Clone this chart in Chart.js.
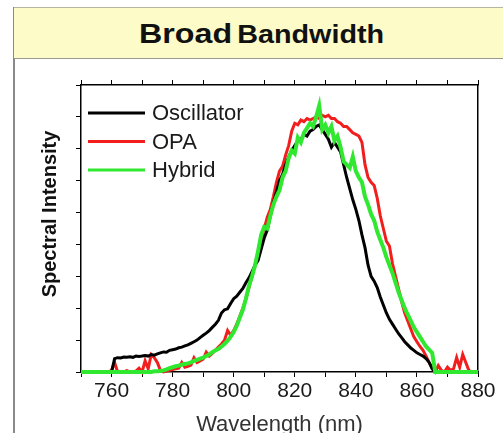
<!DOCTYPE html>
<html>
<head>
<meta charset="utf-8">
<script src="https://cdn.jsdelivr.net/npm/chart.js@4.4.1/dist/chart.umd.min.js"></script>
<style>
  html, body { margin: 0; padding: 0; background: #fff; }
  #wrap { position: relative; width: 503px; height: 433px; overflow: hidden; }
  #chart { position: absolute; left: 0; top: 0; }
  #leftline { position: absolute; left: 13px; top: 7px; width: 2px; height: 426px; background: #8a8a8a; }
  #titlebar {
    position: absolute; left: 14px; top: 7px; width: 489px; height: 50px;
    background: #fdfcc9; border-top: 1px solid #b5b5a0; border-bottom: 1px solid #9a9a90;
    display: flex; align-items: center; justify-content: center;
  }
  #titlebar span.t {
    font-family: "Liberation Sans", Arial, sans-serif; font-weight: bold; color: #111;
    transform: scaleX(1.15); white-space: nowrap; margin-left: 6px; margin-top: 2px;
  }
</style>
</head>
<body>
<div id="wrap">
  <canvas id="chart" width="503" height="433"></canvas>
  <div id="leftline"></div>
  <div id="titlebar"><span class="t"><span style="font-size:28px">Broad</span> <span style="font-size:25px">Bandwidth</span></span></div>
</div>
<script>
// wavelength axis (nm), one sample per nm
const wavelength = [
  750, 751, 752, 753, 754, 755, 756, 757, 758, 759,
  760, 761, 762, 763, 764, 765, 766, 767, 768, 769,
  770, 771, 772, 773, 774, 775, 776, 777, 778, 779,
  780, 781, 782, 783, 784, 785, 786, 787, 788, 789,
  790, 791, 792, 793, 794, 795, 796, 797, 798, 799,
  800, 801, 802, 803, 804, 805, 806, 807, 808, 809,
  810, 811, 812, 813, 814, 815, 816, 817, 818, 819,
  820, 821, 822, 823, 824, 825, 826, 827, 828, 829,
  830, 831, 832, 833, 834, 835, 836, 837, 838, 839,
  840, 841, 842, 843, 844, 845, 846, 847, 848, 849,
  850, 851, 852, 853, 854, 855, 856, 857, 858, 859,
  860, 861, 862, 863, 864, 865, 866, 867, 868, 869,
  870, 871, 872, 873, 874, 875, 876, 877, 878, 879,
  880
];

const oscillator = [
  0, 0, 0, 0, 0, 0, 0, 0, 0, 0,
  0, 0.42, 0.45, 0.44, 0.47, 0.46, 0.48, 0.46, 0.5, 0.49,
  0.5, 0.52, 0.5, 0.55, 0.53, 0.57, 0.6, 0.63, 0.62, 0.68,
  0.7, 0.72, 0.76, 0.78, 0.82, 0.85, 0.9, 0.95, 1.0, 1.08,
  1.15, 1.22, 1.3, 1.4, 1.5, 1.62, 1.85, 1.95, 1.98, 2.15,
  2.3, 2.38, 2.5, 2.62, 2.8, 2.95, 3.15, 3.35, 3.5, 3.85,
  4.2, 4.45, 4.9, 5.3, 5.65, 6.0, 6.2, 6.5, 6.75, 6.95,
  7.1, 7.25, 7.3, 7.45, 7.4, 7.55, 7.6, 7.7, 7.75, 7.6,
  7.45, 7.3, 7.05, 7.2, 7.05, 6.9, 6.5, 6.1, 5.75, 5.4,
  5.1, 4.75, 4.3, 3.9, 3.35, 3.0, 2.85, 2.65, 2.35, 2.1,
  1.85, 1.65, 1.5, 1.35, 1.2, 1.08, 0.95, 0.85, 0.75, 0.68,
  0.6, 0.55, 0.5, 0.42, 0.3, 0.1, 0, 0, 0, 0,
  0, 0, 0, 0, 0, 0, 0, 0, 0, 0,
  0
];

const opa = [
  0, 0, 0, 0, 0, 0, 0, 0, 0, 0,
  0.05, 0.3, 0, 0, 0, 0.04, 0, 0, 0.03, 0.12,
  0, 0.35, 0.1, 0.55, 0.45, 0.3, 0.05, 0, 0.03, 0.05,
  0.08, 0.1, 0.12, 0.3, 0.15, 0.18, 0.22, 0.45, 0.3, 0.35,
  0.4, 0.62, 0.5, 0.58, 0.68, 0.78, 0.88, 1.0, 1.3, 1.15,
  1.3, 1.5, 1.75, 2.0, 2.3, 2.65, 3.0, 3.35, 3.75, 4.15,
  4.5, 4.85, 5.1, 5.5, 5.95, 6.3, 6.45, 6.8, 7.1, 7.55,
  7.8, 7.75, 7.9, 7.85, 7.95, 7.9, 7.95, 8.0, 7.95, 8.05,
  8.0, 8.05, 7.95, 7.95, 7.85, 7.8, 7.7, 7.7, 7.6, 7.5,
  7.45, 7.4, 7.2, 6.5, 6.1, 5.95, 5.85, 5.45, 4.9, 4.5,
  4.1, 3.95, 3.4, 3.0, 2.6, 2.2, 1.85, 1.6, 1.35, 1.1,
  0.95, 0.8, 0.68, 0.5, 0.3, 0.12, 0, 0.2, 0.05, 0,
  0.15, 0.05, 0.1, 0.45, 0.15, 0.55, 0.3, 0.05, 0, 0,
  0
];

const hybrid = [
  0, 0, 0, 0, 0, 0, 0, 0, 0, 0,
  0, 0, 0, 0, 0, 0, 0, 0, 0, 0,
  0, 0, 0, 0, 0.02, 0.02, 0.03, 0.05, 0.08, 0.12,
  0.15, 0.18, 0.2, 0.23, 0.25, 0.27, 0.3, 0.35, 0.38, 0.42,
  0.45, 0.5, 0.55, 0.62, 0.68, 0.72, 0.8, 0.88, 0.98, 1.1,
  1.25, 1.45, 1.7, 1.95, 2.3, 2.7, 3.0, 3.35, 3.8, 4.3,
  4.55, 4.5, 4.9, 5.25, 5.5, 5.7, 6.1, 6.3, 6.7, 6.95,
  6.85, 7.35, 7.2, 7.5, 7.65, 7.8, 7.7, 8.0, 8.35, 7.6,
  7.75, 7.5, 7.7, 7.25, 7.4, 7.05, 6.6, 6.5, 6.4, 6.75,
  6.3, 6.1, 5.95, 5.5, 5.25, 4.95, 4.75, 4.4, 4.15, 3.9,
  3.6, 3.35, 3.1, 2.8, 2.5, 2.25, 2.0, 1.8, 1.6, 1.4,
  1.25, 1.1, 0.95, 0.8, 0.7, 0.6, 0, 0, 0, 0,
  0, 0, 0, 0, 0, 0, 0, 0, 0, 0,
  0
];

const seriesLabels = ['Oscillator', 'OPA', 'Hybrid'];
const xTickLabels = [760, 780, 800, 820, 840, 860, 880];

const FONT = '"Liberation Sans", Arial, sans-serif';

function pts(values) {
  return wavelength.map((w, i) => ({ x: w, y: values[i] }));
}

// legend lines + rotated y title, drawn inside the frame like the original
const overlay = {
  id: 'overlay',
  afterDraw(chart) {
    const ctx = chart.ctx;
    const a = chart.chartArea;
    ctx.save();
    ctx.font = '22px ' + FONT;
    ctx.textBaseline = 'middle';
    ctx.textAlign = 'left';
    chart.data.datasets.forEach((ds, i) => {
      const y = a.top + 28 + i * 28.5;
      ctx.strokeStyle = ds.borderColor;
      ctx.lineWidth = 3;
      ctx.beginPath();
      ctx.moveTo(a.left + 7, y);
      ctx.lineTo(a.left + 64, y);
      ctx.stroke();
      ctx.fillStyle = '#1a1a1a';
      ctx.fillText(ds.label, a.left + 71, y + 1);
    });
    ctx.translate(50, 214);
    ctx.rotate(-Math.PI / 2);
    ctx.font = 'bold 20px ' + FONT;
    ctx.textAlign = 'center';
    ctx.fillStyle = '#111';
    ctx.fillText('Spectral Intensity', 0, 0);
    ctx.restore();
  }
};

const tickGrid = { drawOnChartArea: false, drawTicks: true, tickLength: 5, color: '#000', lineWidth: 1 };
const frame = { display: true, color: '#000', width: 1.5 };

new Chart(document.getElementById('chart'), {
  type: 'line',
  data: {
    datasets: [
      { label: seriesLabels[0], data: pts(oscillator), borderColor: '#000000', borderWidth: 3, order: 1 },
      { label: seriesLabels[1], data: pts(opa), borderColor: '#f21d1d', borderWidth: 3, order: 2 },
      { label: seriesLabels[2], data: pts(hybrid), borderColor: '#2fe82f', borderWidth: 4, order: 0 },
    ],
  },
  options: {
    responsive: false,
    animation: false,
    clip: false,
    elements: { point: { radius: 0 }, line: { tension: 0 } },
    layout: { padding: { left: 0, right: 25, top: 80, bottom: 0 } },
    plugins: { legend: { display: false }, tooltip: { enabled: false } },
    scales: {
      x: {
        type: 'linear', position: 'bottom', min: 750, max: 880,
        ticks: {
          stepSize: 10, autoSkip: false, maxRotation: 0, padding: 2,
          color: '#1a1a1a', font: { family: FONT, size: 21 },
          callback: v => (xTickLabels.includes(v) ? String(v) : ''),
        },
        grid: tickGrid,
        border: frame,
        title: {
          display: true, text: 'Wavelength (nm)', color: '#333', padding: { top: 0, bottom: 3 },
          font: { family: FONT, size: 22, lineHeight: 0.5 },
        },
        afterFit: s => { s.height = 61; },
      },
      x2: {
        type: 'linear', position: 'top', min: 750, max: 880,
        ticks: { stepSize: 10, autoSkip: false, display: false },
        grid: tickGrid,
        border: frame,
        afterFit: s => { s.height = 5; },
      },
      y: {
        type: 'linear', position: 'left', min: 0, max: 9,
        ticks: { stepSize: 1, display: false },
        grid: tickGrid,
        border: frame,
        afterFit: s => { s.width = 81; },
      },
      y2: {
        type: 'linear', position: 'right', min: 0, max: 9,
        ticks: { display: false },
        grid: { display: false, drawTicks: false },
        border: frame,
        afterFit: s => { s.width = 0; },
      },
    },
  },
  plugins: [overlay],
});
</script>
</body>
</html>
